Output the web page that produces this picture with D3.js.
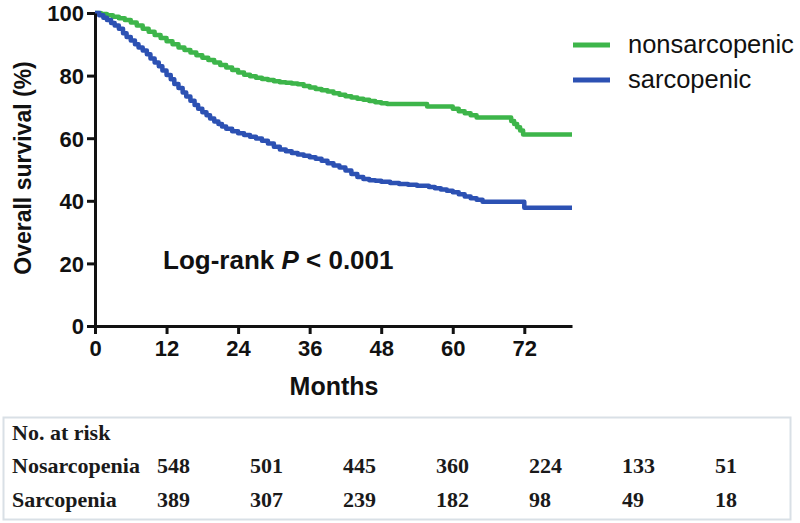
<!DOCTYPE html>
<html>
<head>
<meta charset="utf-8">
<script src="https://cdn.jsdelivr.net/npm/d3@7"></script>
<style>
  html, body { margin: 0; padding: 0; background: #fff; }
  svg { display: block; }
</style>
</head>
<body>
<svg id="chart" width="800" height="523"></svg>
<script>
// ---- Data ----
const seriesNames = ["nonsarcopenic", "sarcopenic"];
const seriesColors = ["#3db54a", "#2c51b3"];

const nonsarcMonths = [0, 1, 2, 3, 4, 5, 6, 7, 8, 9, 10, 11, 12, 13, 14, 15, 16, 17, 18, 19, 20, 21, 22, 23, 24, 25, 26, 27, 28, 29, 30, 31, 32, 33, 34, 35, 36, 37, 38, 39, 40, 41, 42, 43, 44, 45, 46, 47, 48, 49, 55.7, 60, 61, 62, 63, 64, 69.8, 70.3, 70.8, 71.3, 71.8, 80];
const nonsarcSurv   = [100, 99.7, 99.3, 98.8, 98.3, 97.8, 97, 96, 95, 94, 93, 92, 91, 90, 89, 88.2, 87.4, 86.5, 85.7, 85, 84.2, 83.4, 82.6, 81.8, 81, 80.3, 79.8, 79.3, 78.9, 78.6, 78.2, 77.9, 77.7, 77.5, 77.2, 76.7, 76.2, 75.7, 75.3, 74.9, 74.4, 73.9, 73.4, 73, 72.6, 72.3, 71.9, 71.5, 71.2, 70.9, 70.1, 69.4, 68.6, 68, 67.3, 66.6, 65.5, 64.5, 63.5, 62.5, 61.2, 61.2];

const sarcMonths = [0, 0.7, 1.4, 2, 2.7, 3.3, 4, 4.7, 5.3, 6, 6.7, 7.3, 8, 8.7, 9.3, 10, 10.7, 11.3, 12, 12.7, 13.3, 14, 14.7, 15.3, 16, 16.7, 17.3, 18, 18.7, 19.3, 20, 20.7, 21.3, 22, 23, 24, 25, 26, 27, 28, 29, 30, 31, 32, 33, 34, 35, 36, 37, 38, 39, 40, 41, 42, 43, 44, 45, 46, 47, 48, 49.5, 51, 52.5, 54, 56, 57, 58, 59, 60, 61, 62, 63, 64, 65, 72, 80];
const sarcSurv   = [100, 99.3, 98.5, 97.8, 96.8, 96, 95, 93.5, 92.3, 91.2, 90, 89, 88, 86.8, 85.5, 84.2, 83, 81.6, 80.2, 78.8, 77.3, 76, 74.6, 73.3, 72, 70.6, 69.4, 68.3, 67.3, 66.3, 65.3, 64.5, 63.7, 63, 62.2, 61.6, 61, 60.5, 59.9, 59.2, 58.3, 57.3, 56.4, 55.8, 55.3, 54.8, 54.4, 53.9, 53.4, 52.8, 52, 51.3, 50.6, 49.7, 48.6, 47.6, 47, 46.6, 46.4, 46.1, 45.7, 45.4, 45.1, 44.8, 44.4, 44, 43.6, 43.2, 42.7, 42.1, 41.4, 40.8, 40.3, 39.7, 37.8, 37.8];

const xTicks = [0, 12, 24, 36, 48, 60, 72];
const yTicks = [0, 20, 40, 60, 80, 100];

const riskTitle = "No. at risk";
const riskGroups = ["Nosarcopenia", "Sarcopenia"];
const riskNonsarc = [548, 501, 445, 360, 224, 133, 51];
const riskSarc = [389, 307, 239, 182, 98, 49, 18];

// ---- Chart ----
const svg = d3.select("#chart");
const sans = "'Liberation Sans', Arial, Helvetica, sans-serif";
const serif = "'Liberation Serif', 'Times New Roman', Times, serif";

const x = d3.scaleLinear().domain([0, 80]).range([95, 572]);
const y = d3.scaleLinear().domain([0, 100]).range([326, 13]);

const line = d3.line()
  .x(d => x(d[0]))
  .y(d => y(d[1]))
  .curve(d3.curveStepAfter);

const series = [
  d3.zip(nonsarcMonths, nonsarcSurv),
  d3.zip(sarcMonths, sarcSurv)
];

// curves
series.forEach((s, i) => {
  svg.append("path")
    .datum(s)
    .attr("d", line)
    .attr("fill", "none")
    .attr("stroke", seriesColors[i])
    .attr("stroke-width", 4.5)
    .attr("stroke-linejoin", "round");
});

// axes
const xAxis = svg.append("g")
  .attr("transform", `translate(0,${y(0)})`)
  .call(d3.axisBottom(x).tickValues(xTicks).tickSize(8).tickSizeOuter(0).tickPadding(6));
const yAxis = svg.append("g")
  .attr("transform", `translate(${x(0)},0)`)
  .call(d3.axisLeft(y).tickValues(yTicks).tickSize(8).tickSizeOuter(0).tickPadding(3));

[xAxis, yAxis].forEach(g => {
  g.select(".domain").attr("stroke", "#111").attr("stroke-width", 3);
  g.selectAll(".tick line").attr("stroke", "#111").attr("stroke-width", 3);
  g.selectAll(".tick text")
    .attr("fill", "#111")
    .style("font-family", sans)
    .style("font-weight", "bold")
    .style("font-size", "22px");
});
yAxis.selectAll(".tick text").attr("dy", "0.36em");

// axis titles
svg.append("text")
  .attr("x", 334).attr("y", 395)
  .attr("text-anchor", "middle")
  .style("font-family", sans).style("font-weight", "bold").style("font-size", "25px")
  .attr("fill", "#111")
  .text("Months");

svg.append("text")
  .attr("transform", "translate(31,168) rotate(-90)")
  .attr("text-anchor", "middle")
  .style("font-family", sans).style("font-weight", "bold").style("font-size", "23px")
  .attr("fill", "#111")
  .text("Overall survival (%)");

// log-rank annotation
const lr = svg.append("text")
  .attr("x", 163).attr("y", 269)
  .style("font-family", sans).style("font-weight", "bold").style("font-size", "26px")
  .attr("fill", "#111");
lr.append("tspan").text("Log-rank ");
lr.append("tspan").style("font-style", "italic").text("P");
lr.append("tspan").text(" < 0.001");

// legend
const legend = svg.append("g");
seriesNames.forEach((name, i) => {
  const ly = 45 + i * 35;
  legend.append("line")
    .attr("x1", 573).attr("x2", 610)
    .attr("y1", ly).attr("y2", ly)
    .attr("stroke", seriesColors[i]).attr("stroke-width", 5);
  legend.append("text")
    .attr("x", 628).attr("y", ly + 8)
    .style("font-family", sans).style("font-size", "25.5px")
    .attr("fill", "#111")
    .text(name);
});

// ---- Risk table ----
svg.append("rect")
  .attr("x", 3.5).attr("y", 417.5)
  .attr("width", 787).attr("height", 102)
  .attr("fill", "none")
  .attr("stroke", "#d9e0e6").attr("stroke-width", 2);

const col = d3.scaleLinear().domain([0, 6]).range([157, 715]);
const rowY = [440, 473, 507];

svg.append("text")
  .attr("x", 12).attr("y", rowY[0])
  .style("font-family", serif).style("font-weight", "bold").style("font-size", "22px")
  .attr("fill", "#1a1a1a")
  .text(riskTitle);

[riskNonsarc, riskSarc].forEach((vals, r) => {
  svg.append("text")
    .attr("x", 12).attr("y", rowY[r + 1])
    .style("font-family", serif).style("font-weight", "bold").style("font-size", "22px")
    .attr("fill", "#1a1a1a")
    .text(riskGroups[r]);
  svg.selectAll(null)
    .data(vals)
    .enter().append("text")
    .attr("x", (d, i) => col(i))
    .attr("y", rowY[r + 1])
    .style("font-family", serif).style("font-weight", "bold").style("font-size", "22px")
    .attr("fill", "#1a1a1a")
    .text(d => d);
});
</script>
</body>
</html>
